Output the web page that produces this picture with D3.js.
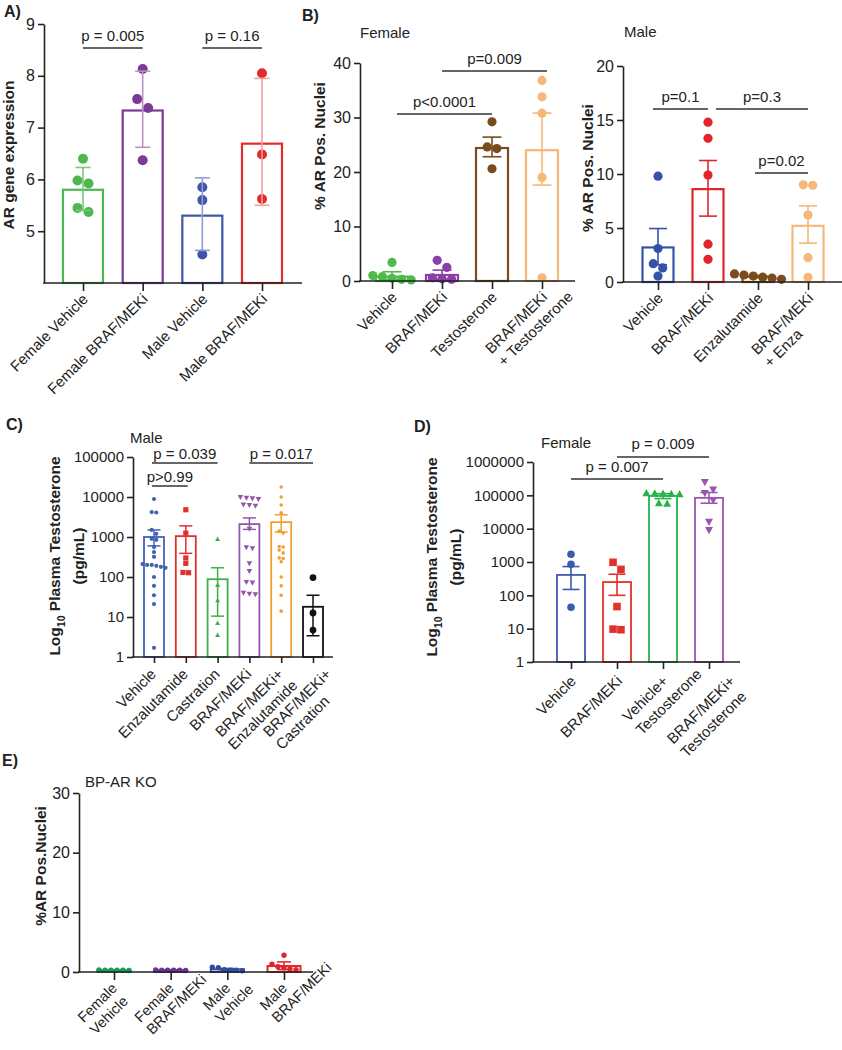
<!DOCTYPE html>
<html><head><meta charset="utf-8">
<script src="https://cdn.jsdelivr.net/npm/d3@7"></script>
<style>
body{margin:0;background:#fff}
svg{display:block}
text{font-family:"Liberation Sans",Arial,Helvetica,sans-serif;fill:#222}
</style>
</head><body>
<svg id="c" width="842" height="1050"></svg>
<script>
// ================= DATA =================
// Panel A – AR gene expression (mean ± SD)
const aCategories = [["Female Vehicle"], ["Female BRAF/MEKi"], ["Male Vehicle"], ["Male BRAF/MEKi"]];
const aMeans   = [5.80, 7.33, 5.30, 6.69];
const aErrHigh = [6.23, 8.09, 6.03, 7.95];
const aErrLow  = [5.40, 6.62, 4.63, 5.50];
const aPoints  = [[6.40, 5.98, 5.92, 5.45, 5.37], [8.13, 7.55, 7.38, 6.37], [5.85, 5.60, 4.55], [8.05, 6.48, 5.62]];
const aYTicks  = [5, 6, 7, 8, 9];
const aPLabels = ["p = 0.005", "p = 0.16"];
const aPPairs  = [[0, 1], [2, 3]];

// Panel B – Female
const bfCategories = [["Vehicle"], ["BRAF/MEKi"], ["Testosterone"], ["BRAF/MEKi", "+ Testosterone"]];
const bfMeans   = [0.8, 1.1, 24.4, 24.0];
const bfErrHigh = [1.7, 2.0, 26.4, 30.8];
const bfErrLow  = [0.2, 0.3, 22.8, 17.6];
const bfPoints  = [[3.4, 1.0, 0.8, 0.5, 0.3, 0.2], [3.8, 2.5, 0.6, 0.4, 0.3], [29.2, 24.6, 24.3, 20.6], [36.8, 33.8, 30.8, 19.0, 0.6]];
const bfYTicks  = [0, 10, 20, 30, 40];
const bfPLabels = ["p<0.0001", "p=0.009"];
const bfPPairs  = [[0, 2], [1, 3]];

// Panel B – Male
const bmCategories = [["Vehicle"], ["BRAF/MEKi"], ["Enzalutamide"], ["BRAF/MEKi", "+ Enza"]];
const bmMeans   = [3.2, 8.6, 0.5, 5.2];
const bmErrHigh = [4.95, 11.25, 0.6, 7.05];
const bmErrLow  = [1.6, 6.1, 0.4, 3.6];
const bmPoints  = [[9.8, 3.1, 1.7, 1.3, 0.55], [14.8, 13.3, 9.9, 3.5, 2.1], [0.75, 0.65, 0.55, 0.45, 0.35, 0.25], [9.0, 8.95, 6.2, 2.25, 0.43]];
const bmYTicks  = [0, 5, 10, 15, 20];
const bmPLabels = ["p=0.1", "p=0.3", "p=0.02"];
const bmPPairs  = [[0, 1], [1, 3], [2, 3]];

// Panel C – Male plasma testosterone (pg/mL)
const cCategories = [["Vehicle"], ["Enzalutamide"], ["Castration"], ["BRAF/MEKi"], ["BRAF/MEKi+", "Enzalutamide"], ["BRAF/MEKi+", "Castration"]];
const cMeans   = [1000, 1050, 88, 2100, 2350, 18];
const cErrHigh = [1500, 1900, 170, 3000, 3600, 35];
const cErrLow  = [600, 390, 10.5, 1550, 1330, 3.4];
const cPoints  = [
  [8900, 4200, 4100, 1500, 1200, 900, 850, 560, 420, 320, 210, 200, 200, 190, 180, 170, 100, 60, 35, 21, 1.7],
  [4800, 1250, 300, 220, 130, 128],
  [880, 63, 26, 7, 3.5],
  [10000, 9500, 9200, 8800, 6500, 6300, 6000, 1600, 550, 520, 220, 140, 75, 72, 40, 38, 37],
  [17800, 10000, 6300, 4000, 1400, 1250, 580, 560, 470, 400, 300, 290, 240, 100, 60, 35, 14],
  [97, 12.6, 4.7]
];
const cYTicks  = [1, 10, 100, 1000, 10000, 100000];
const cPLabels = ["p = 0.039", "p>0.99", "p = 0.017"];
const cPPairs  = [[0, 2], [0, 1], [3, 5]];

// Panel D – Female plasma testosterone (pg/mL)
const dCategories = [["Vehicle"], ["BRAF/MEKi"], ["Vehicle+", "Testosterone"], ["BRAF/MEKi+", "Testosterone"]];
const dMeans   = [410, 250, 96000, 84000];
const dErrHigh = [730, 430, 112000, 122000];
const dErrLow  = [150, 100, 80000, 58000];
const dPoints  = [
  [1700, 850, 44],
  [980, 600, 46, 9.7, 9.3],
  [116000, 114000, 112000, 110000, 108000, 58000, 56000],
  [250000, 150000, 118000, 72000, 16000, 9100]
];
const dYTicks  = [1, 10, 100, 1000, 10000, 100000, 1000000];
const dPLabels = ["p = 0.007", "p = 0.009"];
const dPPairs  = [[0, 2], [1, 3]];

// Panel E – BP-AR KO
const eCategories = [["Female", "Vehicle"], ["Female", "BRAF/MEKi"], ["Male", "Vehicle"], ["Male", "BRAF/MEKi"]];
const eMeans   = [0.3, 0.3, 0.45, 1.0];
const eErrHigh = [0.35, 0.35, 0.6, 1.7];
const eErrLow  = [0.25, 0.25, 0.3, 0.4];
const ePoints  = [[0.35, 0.3, 0.3, 0.3, 0.25, 0.3], [0.35, 0.3, 0.3, 0.25, 0.3, 0.3], [0.8, 0.7, 0.4, 0.3, 0.3, 0.2], [2.8, 1.3, 0.9, 0.7, 0.5, 0.4]];
const eYTicks  = [0, 10, 20, 30];

// ================= DRAWING =================
const svg = d3.select("#c");
const INK = "#222";

function markPath(type, r) {
  if (type === "circle") return d3.symbol().type(d3.symbolCircle).size(Math.PI * r * r)();
  if (type === "square") return d3.symbol().type(d3.symbolSquare).size(4 * r * r)();
  if (type === "up") return `M0,${-r * 1.05}L${r},${r * 0.75}L${-r},${r * 0.75}Z`;
  if (type === "down") return `M0,${r * 1.05}L${r},${-r * 0.75}L${-r},${-r * 0.75}Z`;
}

function swarm(pys, r, gap) {
  const idx = pys.map((p, i) => i).sort((a, b) => pys[a] - pys[b]);
  const rows = [];
  idx.forEach(i => {
    const last = rows[rows.length - 1];
    if (last && Math.abs(pys[i] - pys[last[0]]) < 2 * r) last.push(i);
    else rows.push([i]);
  });
  const off = new Array(pys.length).fill(0);
  rows.forEach(row => {
    const k = row.length;
    row.forEach((i, j) => { off[i] = (j - (k - 1) / 2) * (2 * r + gap); });
  });
  return off;
}

function panel(cfg) {
  const g = svg.append("g");
  const n = cfg.cats.length;
  const x = d3.scalePoint().domain(d3.range(n)).range([cfg.x0, cfg.x1]);
  const y = (cfg.log ? d3.scaleLog() : d3.scaleLinear()).domain(cfg.yDomain).range([cfg.base, cfg.top]);

  // bars
  g.selectAll("rect.bar").data(cfg.means).join("rect")
    .attr("x", (d, i) => x(i) - cfg.bw / 2).attr("y", d => y(d))
    .attr("width", cfg.bw).attr("height", d => cfg.base - y(d))
    .attr("fill", "none")
    .attr("stroke", (d, i) => cfg.colors[i]).attr("stroke-width", cfg.barStroke || 2.2);

  // points
  cfg.points.forEach((vals, i) => {
    const r = cfg.r[i];
    const pys = vals.map(v => y(v));
    const off = swarm(pys, r, cfg.gap != null ? cfg.gap : 0.6);
    g.selectAll(null).data(vals).join("path")
      .attr("d", markPath(cfg.shapes[i], r))
      .attr("transform", (v, j) => `translate(${x(i) + off[j]},${pys[j]})`)
      .attr("fill", cfg.colors[i]);
  });

  // error bars
  cfg.means.forEach((m, i) => {
    const c = cfg.errColors ? cfg.errColors[i] : cfg.colors[i];
    const cx = x(i), yh = y(cfg.hi[i]), yl = y(cfg.lo[i]);
    const eg = g.append("g").attr("stroke", c).attr("stroke-width", cfg.errStroke || 1.6);
    eg.append("line").attr("x1", cx).attr("x2", cx).attr("y1", yh).attr("y2", yl);
    eg.append("line").attr("x1", cx - cfg.cap / 2).attr("x2", cx + cfg.cap / 2).attr("y1", yh).attr("y2", yh);
    eg.append("line").attr("x1", cx - cfg.cap / 2).attr("x2", cx + cfg.cap / 2).attr("y1", yl).attr("y2", yl);
  });

  // y axis
  const yAx = d3.axisLeft(y).tickValues(cfg.yTicks).tickSize(6).tickSizeOuter(0).tickPadding(3)
    .tickFormat(d => String(d));
  const ga = g.append("g").attr("transform", `translate(${cfg.axisX},0)`).call(yAx)
    .attr("font-family", null).attr("font-size", null);
  ga.selectAll("path,line").attr("stroke", INK).attr("stroke-width", 1.6);
  ga.selectAll("text").attr("font-size", cfg.tickFont).attr("fill", INK);

  // x axis line + ticks
  g.append("line").attr("x1", cfg.axisX - 0.8).attr("x2", cfg.xEnd).attr("y1", cfg.base).attr("y2", cfg.base)
    .attr("stroke", INK).attr("stroke-width", 1.6);
  const xAx = d3.axisBottom(x).tickSize(cfg.xTick || 8).tickFormat("");
  const gx = g.append("g").attr("transform", `translate(0,${cfg.base})`).call(xAx);
  gx.select(".domain").remove();
  gx.selectAll("line").attr("stroke", INK).attr("stroke-width", 1.6);

  // category labels: first line ends at the tick, further lines left-aligned with it
  cfg.cats.forEach((lines, i) => {
    const sh = cfg.labShift ? cfg.labShift[i] : [0, 0];
    const lg = g.append("g").attr("transform",
      `translate(${x(i) + cfg.lab.dx + sh[0]},${cfg.base + cfg.lab.dy + sh[1]}) rotate(-45)`);
    const ts = lines.map((s, j) => lg.append("text").attr("font-size", cfg.labFont)
      .attr("y", j * (cfg.lineGap || 18)).text(s));
    const w0 = ts[0].node().getComputedTextLength();
    ts.forEach(t => t.attr("text-anchor", "start").attr("x", -w0));
  });

  // p-value brackets
  (cfg.pLabels || []).forEach((lab, k) => {
    const b = cfg.brackets[k];
    const [a, c] = cfg.pPairs[k];
    const xa = x(a) + (b.l || 0), xc = x(c) + (b.r || 0);
    g.append("line").attr("x1", xa).attr("x2", xc).attr("y1", b.y).attr("y2", b.y)
      .attr("stroke", "#333").attr("stroke-width", 1.5);
    g.append("text").attr("x", b.tx != null ? b.tx : (xa + xc) / 2).attr("y", b.ty)
      .attr("text-anchor", "middle").attr("font-size", 15).text(lab);
  });
  return {x, y};
}

function yLabel(lines, cy, size) {
  lines.forEach(l => {
    const t = svg.append("text").attr("transform", `translate(${l.x},${cy}) rotate(-90)`)
      .attr("text-anchor", "middle").attr("font-size", size).attr("font-weight", "bold");
    if (l.sub) {
      t.append("tspan").text("Log");
      t.append("tspan").attr("font-size", size * 0.68).attr("dy", size * 0.3).text("10");
      t.append("tspan").attr("dy", -size * 0.3).text(" Plasma Testosterone");
    } else t.text(l.text);
  });
}
function txt(s, x, y, size, bold) {
  svg.append("text").attr("x", x).attr("y", y).attr("font-size", size)
    .attr("font-weight", bold ? "bold" : null).text(s);
}

// ---- Panel A ----
panel({
  cats: aCategories, means: aMeans, hi: aErrHigh, lo: aErrLow, points: aPoints, yTicks: aYTicks,
  yDomain: [4, 9], axisX: 44, x0: 83, x1: 262, xEnd: 302, base: 283, top: 24, bw: 40, cap: 15,
  colors: ["#4cb84f", "#7b3a96", "#3f56a6", "#e32b2b"],
  errColors: ["#7cc77c", "#b992c8", "#8f9dd0", "#eea3a3"],
  shapes: ["circle", "circle", "circle", "circle"], r: [5, 5, 5, 5], gap: 1,
  tickFont: 16, labFont: 15, lab: {dx: 6, dy: 17},
  pLabels: aPLabels, pPairs: aPPairs, brackets: [{y: 48, ty: 41}, {y: 48, ty: 41}]
});
txt("A)", 4, 17, 16, true);
yLabel([{x: 14, text: "AR gene expression"}], 155, 15.5);

// ---- Panel B Female ----
panel({
  cats: bfCategories, means: bfMeans, hi: bfErrHigh, lo: bfErrLow, points: bfPoints, yTicks: bfYTicks,
  yDomain: [0, 40], axisX: 360, x0: 392, x1: 542, xEnd: 575, base: 281, top: 63, bw: 32, cap: 19,
  colors: ["#4cbb4a", "#8b3fa9", "#7a4b1c", "#f5b878"],
  shapes: ["circle", "circle", "circle", "circle"], r: [4.6, 4.6, 4.6, 4.6], gap: 0.4,
  tickFont: 16, labFont: 15, lab: {dx: 6, dy: 17},
  pLabels: bfPLabels, pPairs: bfPPairs, brackets: [{y: 114, ty: 107, l: 5}, {y: 71, ty: 64, r: 5}]
});
txt("B)", 302, 21, 16, true);
txt("Female", 360, 38, 15);
yLabel([{x: 325, text: "% AR Pos. Nuclei"}], 146, 15.5);

// ---- Panel B Male ----
panel({
  cats: bmCategories, means: bmMeans, hi: bmErrHigh, lo: bmErrLow, points: bmPoints, yTicks: bmYTicks,
  yDomain: [0, 20], axisX: 623, x0: 658, x1: 808, xEnd: 842, base: 282, top: 66, bw: 31, cap: 18,
  colors: ["#3452a8", "#e0262b", "#7a4b1c", "#f5b878"],
  shapes: ["circle", "circle", "circle", "circle"], r: [4.6, 4.6, 4.6, 4.6], gap: 0.2,
  tickFont: 16, labFont: 15, lab: {dx: 6, dy: 17},
  pLabels: bmPLabels, pPairs: bmPPairs,
  brackets: [{y: 109, ty: 102, l: -5}, {y: 109, ty: 102, l: 8}, {y: 173, ty: 166, l: -3}]
});
txt("Male", 624, 37, 15);
yLabel([{x: 593, text: "% AR Pos. Nuclei"}], 168, 15.5);

// ---- Panel C ----
panel({
  cats: cCategories, means: cMeans, hi: cErrHigh, lo: cErrLow, points: cPoints, yTicks: cYTicks,
  yDomain: [1, 100000], log: true, axisX: 133, x0: 154, x1: 313, xEnd: 333, base: 657, top: 457, bw: 20, cap: 13,
  colors: ["#4462b2", "#e2302f", "#3fae4c", "#9256aa", "#f0a030", "#111"],
  shapes: ["circle", "square", "up", "down", "circle", "circle"], r: [2.1, 2.6, 2.5, 2.8, 1.8, 3.4], gap: 0.4,
  barStroke: 1.8, errStroke: 1.5, xTick: 6,
  tickFont: 15, labFont: 15, lab: {dx: 3, dy: 18}, lineGap: 18,
  labShift: [[0, 0], [0, 0], [0, 0], [0, 0], [0, 0], [16, 0]],
  pLabels: cPLabels, pPairs: cPPairs,
  brackets: [{y: 463, ty: 459, l: -2}, {y: 486, ty: 482, l: -2, r: 2}, {y: 463, ty: 459}]
});
txt("C)", 6, 430, 16, true);
txt("Male", 130, 443, 15);
yLabel([{x: 60, sub: true}, {x: 84, text: "(pg/mL)"}], 556, 15.5);

// ---- Panel D ----
panel({
  cats: dCategories, means: dMeans, hi: dErrHigh, lo: dErrLow, points: dPoints, yTicks: dYTicks,
  yDomain: [1, 1000000], log: true, axisX: 533, x0: 571, x1: 709, xEnd: 740, base: 662, top: 462, bw: 28, cap: 17,
  colors: ["#3b5bab", "#e23228", "#27b24a", "#9b55b0"],
  shapes: ["circle", "square", "up", "down"], r: [3.8, 3.8, 4, 4], gap: 0.3,
  barStroke: 1.8, errStroke: 1.6, xTick: 7,
  tickFont: 15, labFont: 15, lab: {dx: 6, dy: 20}, lineGap: 19,
  labShift: [[0, 0], [0, 0], [0, 0], [21, 0]],
  pLabels: dPLabels, pPairs: dPPairs, brackets: [{y: 479, ty: 472}, {y: 457, ty: 449}]
});
txt("D)", 414, 432, 16, true);
txt("Female", 541, 448, 15);
yLabel([{x: 437, sub: true}, {x: 461, text: "(pg/mL)"}], 557, 15.5);

// ---- Panel E ----
panel({
  cats: eCategories, means: eMeans, hi: eErrHigh, lo: eErrLow, points: ePoints, yTicks: eYTicks,
  yDomain: [0, 30], axisX: 79, x0: 114, x1: 284, xEnd: 313, base: 972, top: 793, bw: 33, cap: 14,
  colors: ["#1b9c5a", "#6c3597", "#2f4ea3", "#e1262b"],
  shapes: ["circle", "circle", "circle", "circle"], r: [2.7, 2.7, 2.7, 2.7], gap: 0.6,
  barStroke: 2, errStroke: 1.5, xTick: 8,
  tickFont: 16, labFont: 14.5, lab: {dx: 4, dy: 17}, lineGap: 17
});
txt("E)", 2, 766, 16, true);
txt("BP-AR KO", 85, 787, 15);
yLabel([{x: 46, text: "%AR Pos.Nuclei"}], 866, 15.5);
</script>
</body></html>
